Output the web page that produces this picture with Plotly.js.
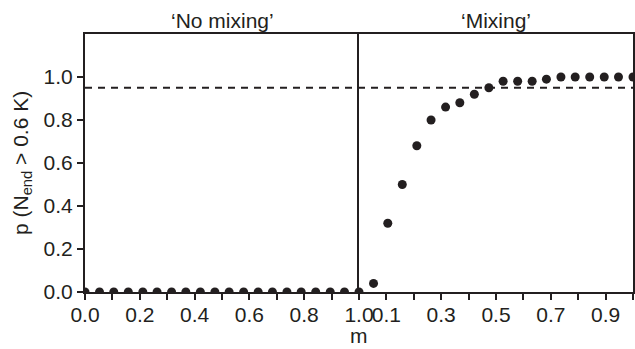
<!DOCTYPE html>
<html>
<head>
<meta charset="utf-8">
<script src="https://cdn.plot.ly/plotly-3.0.1.min.js"></script>
<style>html,body{margin:0;padding:0;background:#fff;}#chart{width:635px;height:349px;}</style>
</head>
<body>
<div id="chart"></div>
<script>
// Data
const mValues = [0, 0.053, 0.105, 0.158, 0.211, 0.263, 0.316, 0.368, 0.421, 0.474,
                 0.526, 0.579, 0.632, 0.684, 0.737, 0.789, 0.842, 0.895, 0.947, 1.0];
const pNoMixing = [0, 0, 0, 0, 0, 0, 0, 0, 0, 0, 0, 0, 0, 0, 0, 0, 0, 0, 0, 0];
const pMixing = [0, 0.04, 0.32, 0.50, 0.68, 0.80, 0.86, 0.88, 0.92, 0.95,
                 0.98, 0.98, 0.98, 0.99, 1.0, 1.0, 1.0, 1.0, 1.0, 1.0];
const threshold = 0.95;
const panelTitles = ['\u2018No mixing\u2019', '\u2018Mixing\u2019'];
const xTickValsLeft = [0, 0.2, 0.4, 0.6, 0.8, 1.0];
const xTickTextLeft = ['0.0', '0.2', '0.4', '0.6', '0.8', '1.0'];
const xTickValsRight = [0.1, 0.3, 0.5, 0.7, 0.9];
const xTickTextRight = ['0.1', '0.3', '0.5', '0.7', '0.9'];
const xMinorTicks = [0, 0.1, 0.2, 0.3, 0.4, 0.5, 0.6, 0.7, 0.8, 0.9, 1.0];
const yTickVals = [0, 0.2, 0.4, 0.6, 0.8, 1.0];
const yTickText = ['0.0', '0.2', '0.4', '0.6', '0.8', '1.0'];

const ink = '#231f20';
const font = {family: 'Liberation Sans, Arial, sans-serif', size: 21, color: ink};

const traces = [
  {x: mValues, y: pNoMixing, xaxis: 'x', yaxis: 'y', mode: 'markers', type: 'scatter',
   marker: {size: 9, color: ink}, showlegend: false, hoverinfo: 'skip'},
  {x: mValues, y: pMixing, xaxis: 'x2', yaxis: 'y2', mode: 'markers', type: 'scatter',
   marker: {size: 9, color: ink}, showlegend: false, hoverinfo: 'skip'}
];

const axisCommon = {showline: true, linewidth: 2, linecolor: ink,
  showgrid: false, zeroline: false, tickfont: font, tickcolor: ink, tickwidth: 2};
const minorTicks = {tickmode: 'array', tickvals: xMinorTicks, ticks: 'outside', ticklen: 6,
  tickwidth: 2, tickcolor: ink, showgrid: false};

const layout = {
  width: 635, height: 349,
  margin: {l: 85, r: 2, t: 34, b: 57},
  paper_bgcolor: '#fff', plot_bgcolor: '#fff',
  font: font,
  xaxis: Object.assign({}, axisCommon, {domain: [0, 0.5], range: [0, 1], mirror: true,
    tickmode: 'array', tickvals: xTickValsLeft, ticktext: xTickTextLeft,
    ticks: 'outside', ticklen: 6, ticklabelstandoff: -3, minor: minorTicks}),
  xaxis2: Object.assign({}, axisCommon, {domain: [0.5, 1], range: [0, 1], mirror: true,
    tickmode: 'array', tickvals: xTickValsRight, ticktext: xTickTextRight,
    ticks: 'outside', ticklen: 6, ticklabelstandoff: -3, minor: minorTicks}),
  yaxis: Object.assign({}, axisCommon, {range: [0, 1.2], anchor: 'x', mirror: false,
    tickmode: 'array', tickvals: yTickVals, ticktext: yTickText,
    ticks: 'outside', ticklen: 6}),
  yaxis2: Object.assign({}, axisCommon, {range: [0, 1.2], anchor: 'x2', mirror: true,
    showticklabels: false, ticks: ''}),
  shapes: [
    {type: 'line', xref: 'paper', yref: 'y', x0: 0, x1: 1, y0: threshold, y1: threshold,
     line: {color: ink, width: 2, dash: '7px,6px'}}
  ],
  annotations: [
    {text: panelTitles[0], xref: 'paper', yref: 'paper', x: 0.25, y: 1, yanchor: 'bottom',
     xanchor: 'center', showarrow: false, font: font, yshift: 0},
    {text: panelTitles[1], xref: 'paper', yref: 'paper', x: 0.75, y: 1, yanchor: 'bottom',
     xanchor: 'center', showarrow: false, font: font, yshift: 0},
    {text: 'm', xref: 'paper', yref: 'paper', x: 0.5, y: 0, yanchor: 'middle',
     xanchor: 'center', showarrow: false, font: font, yshift: -43},
    {text: 'p (N<sub>end</sub> &gt; 0.6 K)', xref: 'paper', yref: 'paper', x: 0, y: 0.5,
     xanchor: 'center', yanchor: 'middle', textangle: -90, showarrow: false, font: font,
     xshift: -63}
  ]
};

Plotly.newPlot('chart', traces, layout, {staticPlot: true, displayModeBar: false});
</script>
</body>
</html>
